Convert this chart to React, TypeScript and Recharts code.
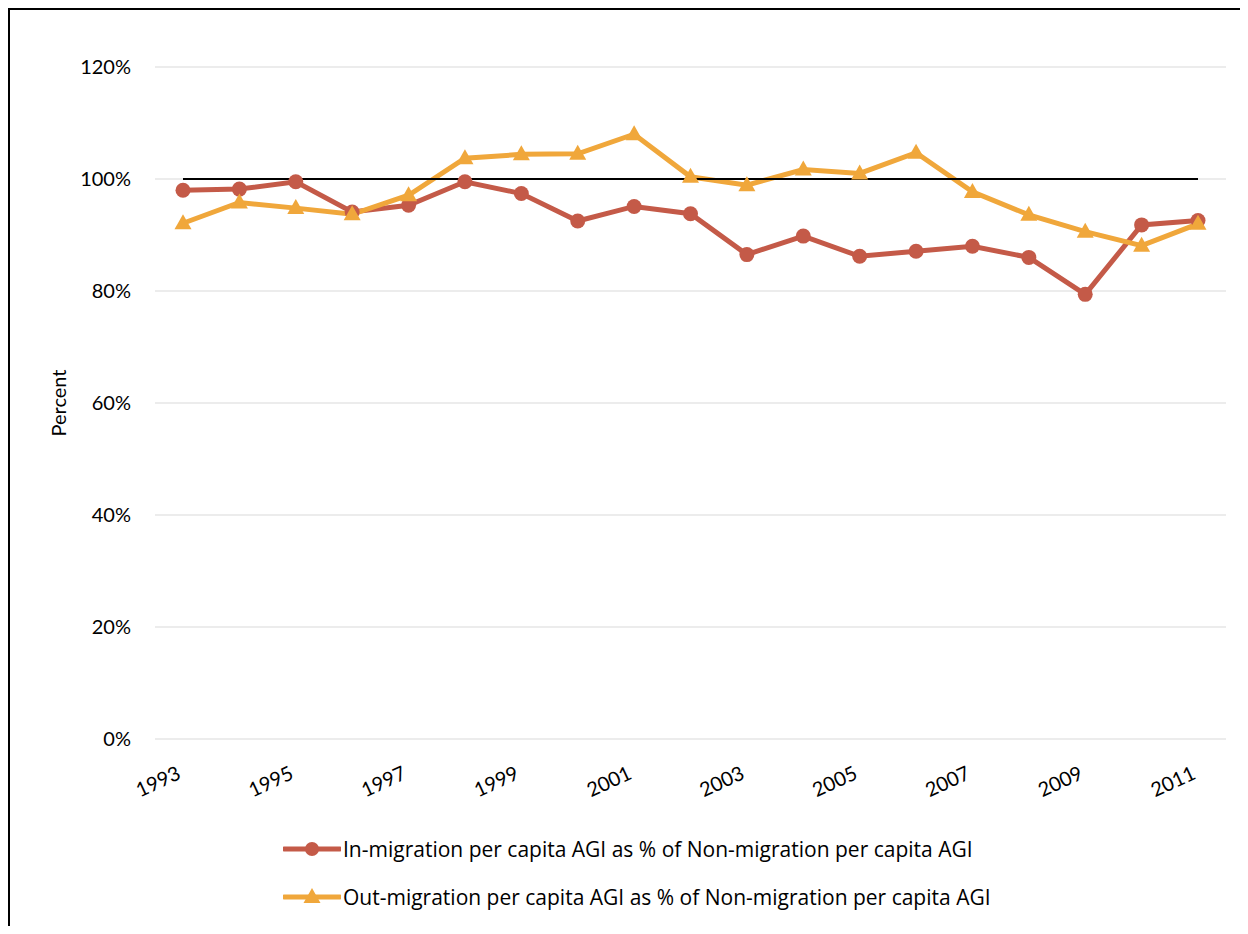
import React from 'react';
import {
  LineChart,
  Line,
  XAxis,
  YAxis,
  CartesianGrid,
} from 'recharts';

const years = [
  '1993', '1994', '1995', '1996', '1997', '1998', '1999', '2000', '2001', '2002',
  '2003', '2004', '2005', '2006', '2007', '2008', '2009', '2010', '2011',
];

const inMigration = [
  98.0, 98.2, 99.5, 94.1, 95.3, 99.5, 97.4, 92.5, 95.1, 93.8,
  86.5, 89.8, 86.2, 87.1, 88.0, 86.0, 79.4, 91.8, 92.6,
];

const outMigration = [
  92.1, 95.8, 94.8, 93.7, 97.1, 103.7, 104.4, 104.5, 108.0, 100.4,
  98.9, 101.7, 101.0, 104.7, 97.7, 93.6, 90.6, 88.1, 92.0,
];

// flat 100% parity line drawn across the years
const parity = [
  100, 100, 100, 100, 100, 100, 100, 100, 100, 100,
  100, 100, 100, 100, 100, 100, 100, 100, 100,
];

const yTicks = [0, 20, 40, 60, 80, 100, 120];

const IN_LABEL = 'In-migration per capita AGI as % of Non-migration per capita AGI';
const OUT_LABEL = 'Out-migration per capita AGI as % of Non-migration per capita AGI';

const RED = '#C45A48';
const ORANGE = '#F0A73B';
const FONT = 'Lato, "Open Sans", sans-serif';

const data = years.map((year, i) => ({
  year,
  inMig: inMigration[i],
  outMig: outMigration[i],
  parity: parity[i],
}));

const Triangle = (props: any) => {
  const { cx, cy, fill } = props;
  if (cx == null || cy == null) return null;
  return (
    <polygon
      points={`${cx},${cy - 9} ${cx - 8.5},${cy + 6} ${cx + 8.5},${cy + 6}`}
      fill={fill}
    />
  );
};

const AngledTick = (props: any) => {
  const { x, y, payload } = props;
  return (
    <g transform={`translate(${x - 1},${y + 31}) rotate(-25)`}>
      <text x={0} y={0} textAnchor="end" fontSize={20} fontFamily={FONT} fill="#000">
        {payload.value}
      </text>
    </g>
  );
};

const LegendRow = ({ color, label, marker }: { color: string; label: string; marker: 'circle' | 'triangle' }) => (
  <div style={{ display: 'flex', alignItems: 'center', height: 48 }}>
    <svg width={58} height={20} style={{ marginRight: 2 }}>
      <line x1={1} y1={10} x2={57} y2={10} stroke={color} strokeWidth={5} strokeLinecap="round" />
      {marker === 'circle' ? (
        <circle cx={29} cy={10} r={7} fill={color} />
      ) : (
        <polygon points="29,1 20.5,16 37.5,16" fill={color} />
      )}
    </svg>
    <span style={{ fontFamily: '"Open Sans", Lato, sans-serif', fontSize: 21, color: '#000' }}>{label}</span>
  </div>
);

export default function App() {
  return (
    <div
      style={{
        position: 'relative',
        width: 1238,
        height: 924,
        marginBottom: -8,
        borderTop: '2px solid #000',
        borderLeft: '2px solid #000',
        background: '#fff',
      }}
    >
      <LineChart
        width={1238}
        height={916}
        data={data}
        margin={{ top: 57, right: 22, left: 0, bottom: 127 }}
      >
        <CartesianGrid vertical={false} stroke="#d9d9d9" strokeWidth={1} />
        <XAxis
          dataKey="year"
          interval={1}
          height={60}
          axisLine={false}
          tickLine={false}
          padding={{ left: 28, right: 28 }}
          tick={<AngledTick />}
        />
        <YAxis
          width={145}
          domain={[0, 120]}
          ticks={yTicks}
          axisLine={false}
          tickLine={false}
          tickMargin={18}
          tickFormatter={(v: number) => `${v}%`}
          tick={{ fill: '#000', fontSize: 20, fontFamily: FONT }}
          label={{
            value: 'Percent',
            angle: -90,
            position: 'center',
            dx: -24,
            style: { fill: '#000', fontSize: 20, fontFamily: FONT },
          }}
        />
        <Line
          dataKey="inMig"
          name={IN_LABEL}
          stroke={RED}
          strokeWidth={5}
          dot={{ r: 7.5, fill: RED, stroke: 'none' }}
          activeDot={false}
          isAnimationActive={false}
        />
        <Line
          dataKey="outMig"
          name={OUT_LABEL}
          stroke={ORANGE}
          strokeWidth={5}
          dot={<Triangle fill={ORANGE} />}
          activeDot={false}
          isAnimationActive={false}
        />
        <Line
          dataKey="parity"
          stroke="#000"
          strokeWidth={2}
          dot={false}
          activeDot={false}
          legendType="none"
          isAnimationActive={false}
        />
      </LineChart>
      <div style={{ position: 'absolute', left: 273, top: 815 }}>
        <LegendRow color={RED} label={IN_LABEL} marker="circle" />
        <LegendRow color={ORANGE} label={OUT_LABEL} marker="triangle" />
      </div>
    </div>
  );
}
